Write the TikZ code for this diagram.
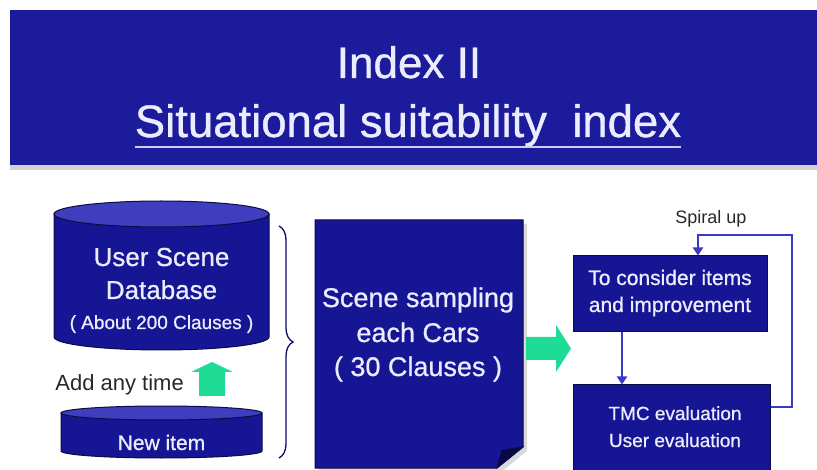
\documentclass[tikz,border=0pt]{standalone}
\usepackage{fontspec}
\setmainfont{Liberation Sans}
\newfontfamily\glowfont[FakeBold=0.8]{Liberation Sans}
\usetikzlibrary{arrows.meta,decorations.pathreplacing}
\definecolor{banner}{RGB}{27,27,156}
\definecolor{navy}{RGB}{22,22,148}
\definecolor{navytop}{RGB}{62,62,190}
\definecolor{edge}{RGB}{12,12,70}
\definecolor{fold}{RGB}{8,8,70}
\definecolor{mint}{RGB}{30,220,150}
\definecolor{loopc}{RGB}{58,58,200}
\definecolor{lt}{RGB}{236,236,255}
\definecolor{dk}{RGB}{40,40,40}
\tikzset{
  titletext/.style={text=lt, inner sep=0pt, anchor=base},
  intext/.style={text=lt, inner sep=0pt, align=center, anchor=base},
  boxnode/.style={draw=edge, fill=navy, line width=1pt, inner sep=0pt},
  loopline/.style={draw=loopc, line width=2.2pt, -{Triangle[length=8pt,width=10pt]}},
  cyl/.style={fill=navy, draw=edge, line width=1pt},
  cyltop/.style={fill=navytop, draw=edge, line width=1pt},
  greenarrow/.style={fill=mint, draw=none},
  darktext/.style={text=dk, inner sep=0pt, anchor=base}
}
\begin{document}
\begin{tikzpicture}[x=1pt,y=1pt]
\useasboundingbox (0,0) rectangle (817,-470);
\fill[white] (0,0) rectangle (817,-470);
% banner
\fill[gray!35] (10,-164) rectangle (817,-170);
\fill[banner] (10,-10) rectangle (817,-165);
\node[titletext, font=\glowfont\fontsize{44}{50}\selectfont] (t1) at (409,-78) {Index II};
\node[titletext, font=\glowfont\fontsize{45.5}{50}\selectfont] (t2) at (408,-137) {Situational suitability\ \ index};
\draw[lt!85!banner, line width=2pt] ([yshift=-10pt]t2.base west) -- ([yshift=-10pt]t2.base east);

% database cylinder
\path[cyl] (54,-214) -- (54,-337) arc[start angle=180,end angle=360,x radius=107.5,y radius=13] -- (269,-214) -- cycle;
\path[cyltop] (161.5,-214) ellipse[x radius=107.5, y radius=13];
\node[intext, font=\glowfont\fontsize{26}{34}\selectfont] (db1) at (161.5,-266) {User Scene};
\node[intext, font=\glowfont\fontsize{26}{34}\selectfont] (db2) at (161.5,-299) {Database};
\node[intext, font=\glowfont\fontsize{19}{22}\selectfont] (db3) at (161.5,-329) {( About 200 Clauses )};

% add arrow
\path[greenarrow] (199,-396) -- (199,-372) -- (191,-372) -- (212,-362) -- (233,-372) -- (225,-372) -- (225,-396) -- cycle;
\node[darktext, font=\fontsize{22}{24}\selectfont, anchor=base east] (add) at (184,-391) {Add any time};

% new item cylinder
\path[cyl] (61,-413) -- (61,-451) arc[start angle=180,end angle=360,x radius=100.5,y radius=7] -- (262,-413) -- cycle;
\path[cyltop] (161.5,-413) ellipse[x radius=100.5, y radius=7];
\node[intext, font=\glowfont\fontsize{21}{24}\selectfont] (new) at (161.5,-450) {New item};

% brace
\draw[edge!80!blue, line width=1.3pt, decorate, decoration={brace, amplitude=14pt}] (279,-226) -- (279,-458);

% document
\fill[gray!30] (319,-224) -- (527,-224) -- (527,-451) -- (501,-472) -- (319,-472) -- cycle;
\path[fill=navy, draw=edge, line width=1pt] (315,-220) -- (523,-220) -- (523,-447) -- (497,-468) -- (315,-468) -- cycle;
\path[fill=fold, draw=edge, line width=0.8pt] (523,-447) -- (497,-468) -- (502,-450) -- cycle;
\node[intext, font=\glowfont\fontsize{27}{34}\selectfont] (doc1) at (418,-307) {Scene sampling};
\node[intext, font=\glowfont\fontsize{27}{34}\selectfont] (doc2) at (418,-342) {each Cars};
\node[intext, font=\glowfont\fontsize{27}{34}\selectfont] (doc3) at (418,-376) {( 30 Clauses )};

% right arrow
\path[greenarrow] (526,-337) -- (556,-337) -- (556,-325) -- (571,-348.5) -- (556,-372) -- (556,-360) -- (526,-360) -- cycle;

% boxes
\node[boxnode, minimum width=194pt, minimum height=76pt] (box1) at (670,-294) {};
\node[intext, font=\glowfont\fontsize{21}{27}\selectfont] (b1a) at (670,-285) {To consider items};
\node[intext, font=\glowfont\fontsize{21}{27}\selectfont] (b1b) at (670,-312) {and improvement};
\node[boxnode, minimum width=197pt, minimum height=86pt] (box2) at (671.5,-428) {};
\node[intext, font=\glowfont\fontsize{19}{27}\selectfont] (b2a) at (675,-420) {TMC evaluation};
\node[intext, font=\glowfont\fontsize{19}{27}\selectfont] (b2b) at (675,-447) {User evaluation};

\draw[loopline] ([xshift=-48pt]box1.south) -- ([xshift=-48pt]box1.south |- box2.north);
\draw[loopline] ([yshift=21pt]box2.east) -| (792,-235) -| ([xshift=28pt]box1.north);
\node[darktext, font=\fontsize{18}{20}\selectfont] (spiral) at (711,-224) {Spiral up};
\end{tikzpicture}
\end{document}
